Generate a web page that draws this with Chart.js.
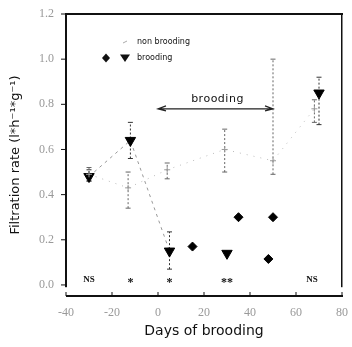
<!DOCTYPE html>
<html>
<head>
<meta charset="utf-8">
<script src="https://cdn.jsdelivr.net/npm/chart.js@4.4.1/dist/chart.umd.min.js"></script>
<style>
  body { margin: 0; background: #fff; }
  #wrap { width: 352px; height: 347px; }
</style>
</head>
<body>
<div id="wrap"><canvas id="chart"></canvas></div>
<script>
// non brooding (open crosses, dotted line)
const nonDays = [-30, -13, 4, 29, 50, 68];
const nonRate = [0.49, 0.43, 0.51, 0.60, 0.55, 0.78];
const nonLow  = [0.46, 0.34, 0.47, 0.50, 0.49, 0.72];
const nonHigh = [0.52, 0.50, 0.54, 0.69, 1.00, 0.82];

// brooding, triangles
const triDays = [-30, -12, 5, 30, 70];
const triRate = [0.48, 0.64, 0.15, 0.14, 0.85];
const triLow  = [0.46, 0.56, 0.07, null, 0.71];
const triHigh = [0.51, 0.72, 0.235, null, 0.92];

// brooding, diamonds
const diaDays = [15, 35, 48, 50];
const diaRate = [0.17, 0.30, 0.115, 0.30];

// significance marks along the bottom
const sigDays = [-30, -12, 5, 30, 67];
const sigText = ['NS', '*', '*', '**', 'NS'];

// brooding period arrow
const arrowFrom = 0;
const arrowTo = 50;
const arrowRate = 0.78;

const xTicks = [-40, -20, 0, 20, 40, 60, 80];
const yTicks = [0, 0.2, 0.4, 0.6, 0.8, 1.0, 1.2];

const toPts = (xs, ys) => xs.map((x, i) => ({ x: x, y: ys[i] }));

// error bars, frame, labels and legend
const decor = {
  id: 'decor',
  beforeDatasetsDraw(chart) {
    const ctx = chart.ctx;
    const xs = chart.scales.x, ys = chart.scales.y;
    ctx.save();
    ctx.setLineDash([]);
    const bars = (days, lo, hi, color) => {
      ctx.strokeStyle = color;
      ctx.lineWidth = 1;
      days.forEach((d, i) => {
        if (lo[i] == null) return;
        const x = xs.getPixelForValue(d);
        const y1 = ys.getPixelForValue(lo[i]);
        const y2 = ys.getPixelForValue(hi[i]);
        ctx.setLineDash([2, 2]);
        ctx.beginPath(); ctx.moveTo(x, y1); ctx.lineTo(x, y2); ctx.stroke();
        ctx.setLineDash([]);
        ctx.beginPath();
        ctx.moveTo(x - 2.5, y1); ctx.lineTo(x + 2.5, y1);
        ctx.moveTo(x - 2.5, y2); ctx.lineTo(x + 2.5, y2);
        ctx.stroke();
      });
    };
    bars(nonDays, nonLow, nonHigh, '#666');
    bars(triDays, triLow, triHigh, '#333');
    ctx.restore();
  },
  afterDraw(chart) {
    const ctx = chart.ctx;
    const xs = chart.scales.x, ys = chart.scales.y;
    ctx.save();
    // frame, drawn as filled rectangles
    const L = xs.getPixelForValue(-40), R = xs.getPixelForValue(80);
    const T = ys.getPixelForValue(1.2), B = ys.getPixelForValue(-0.049);
    const yb = ys.getPixelForValue(-0.01);
    ctx.fillStyle = '#111';
    ctx.fillRect(L - 1, T - 1, 2, yb - T + 1);
    ctx.fillRect(L - 1, T - 1, R - L + 2, 2);
    ctx.fillRect(R - 1, T - 1, 1.5, yb - T + 1);
    ctx.fillRect(L, B - 1, R - L + 1, 2);
    yTicks.forEach(v => {
      const p = ys.getPixelForValue(v);
      ctx.fillRect(L - 5, p - 0.5, 5, 1);
    });
    xTicks.forEach(v => {
      const p = xs.getPixelForValue(v);
      ctx.fillRect(p - 0.5, B - 4, 1, 4);
    });
    // significance marks
    ctx.textAlign = 'center';
    ctx.textBaseline = 'middle';
    sigDays.forEach((d, i) => {
      const ns = sigText[i] === 'NS';
      ctx.font = ns ? 'bold 9px "Liberation Serif"' : 'bold 12px "Liberation Serif"';
      ctx.fillText(sigText[i], xs.getPixelForValue(d), ys.getPixelForValue(ns ? 0.025 : 0.01));
    });
    // brooding arrow
    const ax1 = xs.getPixelForValue(arrowFrom), ax2 = xs.getPixelForValue(arrowTo);
    const ay = ys.getPixelForValue(arrowRate);
    ctx.strokeStyle = '#222';
    ctx.lineWidth = 1.2;
    ctx.beginPath();
    ctx.moveTo(ax1, ay); ctx.lineTo(ax2, ay);
    ctx.moveTo(ax1 + 8, ay - 3); ctx.lineTo(ax1, ay); ctx.lineTo(ax1 + 8, ay + 2);
    ctx.moveTo(ax2 - 8, ay - 3); ctx.lineTo(ax2, ay); ctx.lineTo(ax2 - 8, ay + 2);
    ctx.stroke();
    ctx.font = '11px "DejaVu Sans"';
    ctx.letterSpacing = '0.5px';
    ctx.textBaseline = 'alphabetic';
    ctx.fillText('brooding', (ax1 + ax2) / 2 + 2, ay - 7);
    // legend
    ctx.letterSpacing = '0px';
    ctx.textAlign = 'left';
    ctx.textBaseline = 'middle';
    ctx.font = '8px "DejaVu Sans"';
    const lx = L + 59, ly1 = T + 28, ly2 = T + 44;
    ctx.strokeStyle = '#aaa';
    ctx.lineWidth = 1;
    ctx.beginPath();
    ctx.moveTo(lx - 2, ly1 + 1); ctx.lineTo(lx + 2, ly1 - 1);
    ctx.stroke();
    ctx.fillText('non brooding', lx + 12, ly1);
    ctx.fillText('brooding', lx + 12, ly2);
    ctx.beginPath();
    ctx.moveTo(lx - 19, ly2 - 4.5); ctx.lineTo(lx - 15, ly2); ctx.lineTo(lx - 19, ly2 + 4.5); ctx.lineTo(lx - 23, ly2);
    ctx.closePath(); ctx.fill();
    ctx.beginPath();
    ctx.moveTo(lx - 5, ly2 - 3.5); ctx.lineTo(lx + 5, ly2 - 3.5); ctx.lineTo(lx, ly2 + 4);
    ctx.closePath(); ctx.fill();
    ctx.restore();
  }
};

new Chart(document.getElementById('chart'), {
  type: 'scatter',
  data: {
    datasets: [
      {
        label: 'non brooding',
        data: toPts(nonDays, nonRate),
        showLine: true,
        borderColor: '#bbb',
        borderWidth: 1,
        borderDash: [1, 6],
        pointStyle: 'cross',
        pointRadius: 3,
        pointBorderColor: '#999',
        pointBorderWidth: 1
      },
      {
        label: 'brooding',
        data: toPts(triDays, triRate),
        showLine: true,
        borderWidth: 1,
        borderDash: [3, 4],
        segment: {
          borderColor: c => c.p0DataIndex < 2 ? '#999' : 'rgba(0,0,0,0)'
        },
        pointStyle: 'triangle',
        rotation: 180,
        pointRadius: 6,
        backgroundColor: '#000',
        pointBorderColor: '#000'
      },
      {
        label: 'brooding diamonds',
        data: toPts(diaDays, diaRate),
        pointStyle: 'rectRot',
        pointRadius: 4.5,
        backgroundColor: '#000',
        pointBorderColor: '#000'
      }
    ]
  },
  options: {
    responsive: true,
    maintainAspectRatio: false,
    animation: false,
    layout: { padding: { left: 8, right: 10, top: 14, bottom: 5 } },
    plugins: { legend: { display: false }, tooltip: { enabled: false } },
    scales: {
      x: {
        type: 'linear',
        min: -40, max: 80,
        afterBuildTicks: s => { s.ticks = xTicks.map(v => ({ value: v })); },
        afterFit: s => { s.height = 347 - 296 - 5; s.paddingLeft = 0; s.paddingRight = 0; },
        grid: { display: false, drawTicks: false },
        border: { display: false },
        ticks: {
          padding: 10,
          color: '#999',
          font: { family: '"Liberation Serif"', size: 12 },
          callback: v => v
        },
        title: {
          display: true,
          text: 'Days of brooding',
          color: '#111',
          font: { family: '"DejaVu Sans"', size: 14 },
          padding: { top: 0, bottom: 2 }
        }
      },
      y: {
        min: -0.049, max: 1.2,
        afterBuildTicks: s => { s.ticks = yTicks.map(v => ({ value: v })); },
        afterFit: s => { s.width = 66 - 8; s.paddingTop = 0; s.paddingBottom = 0; },
        grid: { display: false, drawTicks: false },
        border: { display: false },
        ticks: {
          padding: 12,
          color: '#999',
          font: { family: '"Liberation Serif"', size: 12 },
          callback: v => v.toFixed(1)
        },
        title: {
          display: true,
          text: 'Filtration rate (l*h⁻¹*g⁻¹)',
          color: '#111',
          font: { family: '"DejaVu Sans"', size: 13 },
          padding: { top: 0, bottom: 2 }
        }
      }
    }
  },
  plugins: [decor]
});
</script>
</body>
</html>
